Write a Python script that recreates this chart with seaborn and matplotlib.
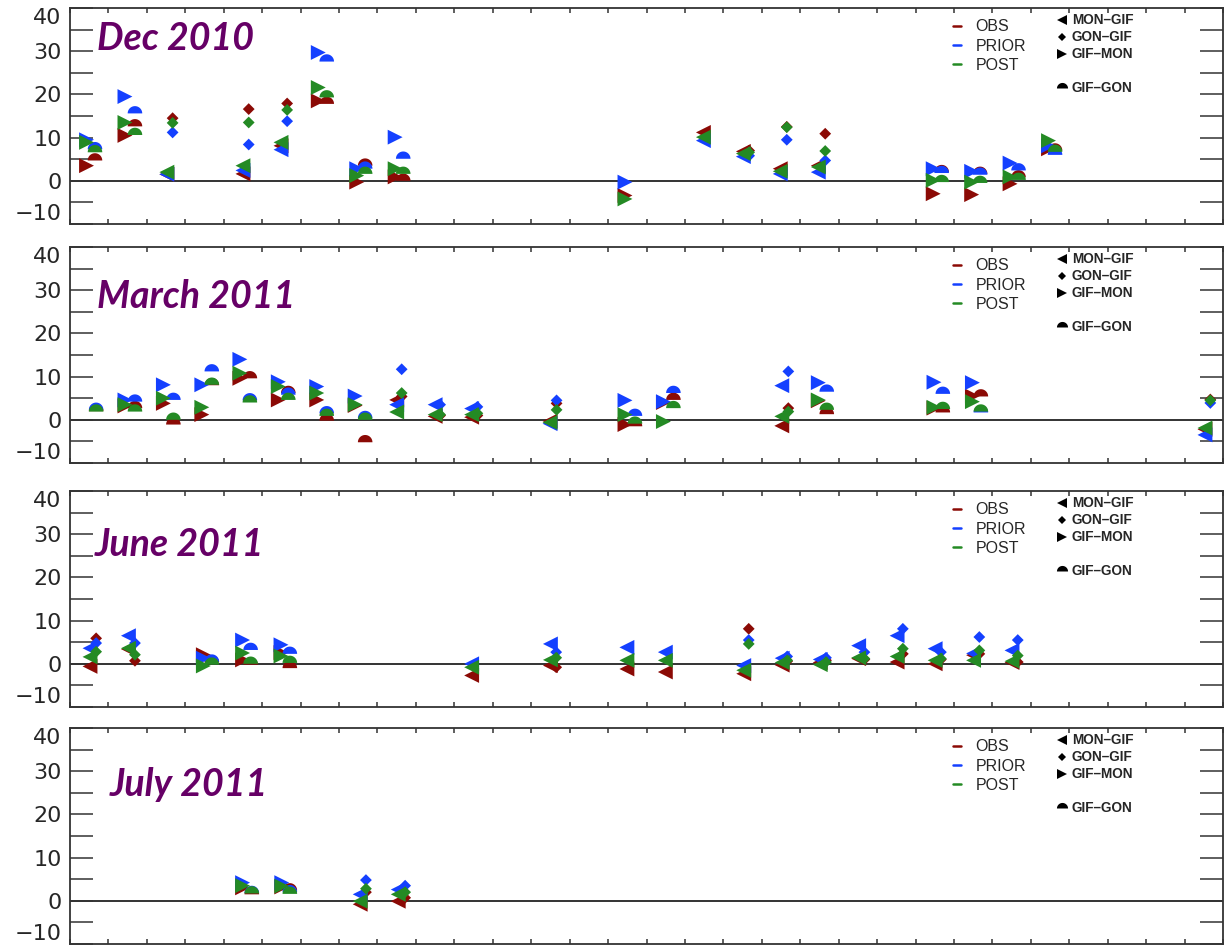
import numpy as np
import pandas as pd
import matplotlib
matplotlib.use("Agg")
import matplotlib.pyplot as plt
from matplotlib.path import Path
from matplotlib.lines import Line2D
from matplotlib.ticker import MultipleLocator
import seaborn as sns

# ---- data: day of month, enhancement (ppm) per series, per station pair ----
# Dec 2010
dec_mg_day = [3.52, 5.5, 6.49, 17.48, 18.52, 19.48, 20.47]
dec_mg_obs = [1.5, 1.6, 8.1, 11.2, 6.8, 2.8, 3.5]
dec_mg_prior = [1.5, 2.4, 7.2, 9.3, 5.6, 1.6, 2.0]
dec_mg_post = [2.0, 3.5, 8.9, 10.1, 6.3, 2.2, 3.2]

dec_gg_day = [3.67, 5.65, 6.65, 18.67, 19.65, 20.65]
dec_gg_obs = [14.5, 16.6, 17.9, 7.0, 12.5, 10.9]
dec_gg_prior = [11.2, 8.4, 13.8, 5.8, 9.5, 4.7]
dec_gg_post = [13.4, 13.5, 16.4, 6.6, 12.4, 6.9]

dec_gm_day = [1.43, 2.43, 7.46, 8.46, 9.46, 15.44, 23.46, 24.46, 25.46, 26.46]
dec_gm_obs = [3.5, 10.5, 18.5, -0.3, 0.9, -3.4, -3.0, -3.2, -0.7, 7.4]
dec_gm_prior = [9.5, 19.5, 29.7, 2.8, 10.1, -0.3, 2.8, 2.2, 4.1, 8.1]
dec_gm_post = [8.9, 13.5, 21.6, 1.2, 2.8, -4.2, 0.1, -0.3, 0.9, 9.3]

dec_go_day = [1.65, 2.69, 7.68, 8.68, 9.67, 23.68, 24.68, 25.68, 26.63]
dec_go_obs = [4.7, 12.6, 17.8, 3.5, 0.0, 2.0, 1.6, 0.8, 7.0]
dec_go_prior = [7.3, 15.6, 27.6, 2.8, 5.1, 1.8, 1.4, 2.4, 6.0]
dec_go_post = [6.6, 10.6, 19.3, 1.6, 1.6, -0.3, -0.5, 0.2, 6.7]

# March 2011
mar_mg_day = [9.5, 10.5, 11.45, 13.49, 19.52, 30.53]
mar_mg_obs = [4.6, 0.8, 0.6, -0.3, -1.4, -2.2]
mar_mg_prior = [3.5, 3.5, 2.6, -0.9, 7.9, -3.5]
mar_mg_post = [1.8, 1.2, 1.2, -0.6, 0.8, -1.9]

mar_gg_day = [9.63, 10.63, 11.6, 13.66, 19.69, 30.67]
mar_gg_obs = [5.4, 1.0, 1.0, 3.8, 2.7, 4.7]
mar_gg_prior = [11.7, 3.5, 3.0, 4.5, 11.2, 3.9]
mar_gg_post = [6.2, 1.2, 1.5, 2.3, 1.9, 4.5]

mar_gm_day = [2.43, 3.43, 4.43, 5.42, 6.42, 7.42, 8.42, 15.44, 16.44, 20.47, 23.48, 24.48]
mar_gm_obs = [3.2, 3.8, 1.2, 9.6, 4.6, 4.6, 3.3, -1.1, 4.0, 4.4, 2.7, 5.5]
mar_gm_prior = [4.6, 8.1, 8.1, 14.0, 8.8, 7.7, 5.5, 4.5, 4.2, 8.6, 8.7, 8.6]
mar_gm_post = [3.5, 5.0, 2.9, 10.8, 7.7, 6.2, 3.5, 1.2, -0.4, 4.6, 2.9, 4.2]

mar_go_day = [1.68, 2.69, 3.69, 4.69, 5.68, 6.68, 7.68, 8.68, 15.7, 16.7, 20.69, 23.71, 24.7]
mar_go_obs = [2.0, 2.7, -1.1, 8.0, 9.6, 6.2, -0.2, -5.2, -1.5, 4.6, 1.3, 1.7, 5.4]
mar_go_prior = [2.3, 4.2, 4.6, 11.2, 4.5, 5.8, 1.5, 0.4, 0.9, 6.2, 6.5, 6.0, 1.7]
mar_go_post = [1.9, 1.9, 0.0, 8.1, 4.0, 4.6, 0.9, 0.0, -0.9, 2.7, 2.3, 2.5, 1.9]

# June 2011
jun_mg_day = [1.52, 2.52, 11.45, 13.5, 15.49, 16.49, 18.53, 19.53, 20.52, 21.52, 22.52, 23.51, 24.51, 25.51]
jun_mg_obs = [-0.6, 3.4, -2.7, -0.4, -1.2, -1.9, -2.3, -0.3, 0.3, 1.2, 0.4, 0.0, 2.0, 0.3]
jun_mg_prior = [3.6, 6.5, 0.0, 4.6, 3.8, 2.7, -0.4, 1.3, 1.0, 4.2, 6.5, 3.5, 2.4, 3.1]
jun_mg_post = [1.6, 3.6, -0.8, 0.9, 0.8, 0.8, -1.5, 0.3, -0.2, 1.4, 1.7, 0.8, 0.8, 0.6]

jun_gg_day = [1.68, 2.69, 13.65, 18.66, 19.66, 20.67, 21.67, 22.67, 23.66, 24.66, 25.66]
jun_gg_obs = [5.9, 0.7, -0.8, 8.1, 0.6, 0.8, 1.0, 2.3, 1.0, 2.3, 0.4]
jun_gg_prior = [4.8, 4.8, 2.7, 5.5, 1.7, 1.4, 2.7, 8.1, 2.7, 6.2, 5.5]
jun_gg_post = [2.8, 2.1, 1.4, 4.6, 0.8, 0.4, 1.2, 3.5, 1.2, 3.1, 1.9]

jun_gm_day = [4.47, 5.49, 6.49]
jun_gm_obs = [2.1, 0.9, 2.6]
jun_gm_prior = [1.3, 5.5, 4.4]
jun_gm_post = [-0.5, 2.5, 1.8]

jun_go_day = [4.69, 5.7, 6.72]
jun_go_obs = [0.3, -0.2, -1.0]
jun_go_prior = [0.5, 3.2, 2.3]
jun_go_post = [-0.2, 0.0, 0.2]

# July 2011
jul_mg_day = [8.55, 9.54]
jul_mg_obs = [-0.8, -0.1]
jul_mg_prior = [1.5, 2.6]
jul_mg_post = [-0.1, 1.5]

jul_gg_day = [8.7, 9.72]
jul_gg_obs = [2.0, 0.7]
jul_gg_prior = [4.8, 3.5]
jul_gg_post = [2.8, 2.0]

jul_gm_day = [5.49, 6.51]
jul_gm_obs = [3.0, 3.2]
jul_gm_prior = [4.2, 4.2]
jul_gm_post = [3.5, 3.4]

jul_go_day = [5.73, 6.72]
jul_go_obs = [1.5, 2.4]
jul_go_prior = [1.8, 2.0]
jul_go_post = [1.7, 1.6]

months = ["Dec 2010", "March 2011", "June 2011", "July 2011"]
series = ["OBS", "PRIOR", "POST"]
pairs = ["MON-GIF", "GON-GIF", "GIF-MON", "GIF-GON"]

panel_data = [
    {"MON-GIF": (dec_mg_day, dec_mg_obs, dec_mg_prior, dec_mg_post),
     "GON-GIF": (dec_gg_day, dec_gg_obs, dec_gg_prior, dec_gg_post),
     "GIF-MON": (dec_gm_day, dec_gm_obs, dec_gm_prior, dec_gm_post),
     "GIF-GON": (dec_go_day, dec_go_obs, dec_go_prior, dec_go_post)},
    {"MON-GIF": (mar_mg_day, mar_mg_obs, mar_mg_prior, mar_mg_post),
     "GON-GIF": (mar_gg_day, mar_gg_obs, mar_gg_prior, mar_gg_post),
     "GIF-MON": (mar_gm_day, mar_gm_obs, mar_gm_prior, mar_gm_post),
     "GIF-GON": (mar_go_day, mar_go_obs, mar_go_prior, mar_go_post)},
    {"MON-GIF": (jun_mg_day, jun_mg_obs, jun_mg_prior, jun_mg_post),
     "GON-GIF": (jun_gg_day, jun_gg_obs, jun_gg_prior, jun_gg_post),
     "GIF-MON": (jun_gm_day, jun_gm_obs, jun_gm_prior, jun_gm_post),
     "GIF-GON": (jun_go_day, jun_go_obs, jun_go_prior, jun_go_post)},
    {"MON-GIF": (jul_mg_day, jul_mg_obs, jul_mg_prior, jul_mg_post),
     "GON-GIF": (jul_gg_day, jul_gg_obs, jul_gg_prior, jul_gg_post),
     "GIF-MON": (jul_gm_day, jul_gm_obs, jul_gm_prior, jul_gm_post),
     "GIF-GON": (jul_go_day, jul_go_obs, jul_go_prior, jul_go_post)},
]

colors = {"OBS": "#8b0a05", "PRIOR": "#1440ff", "POST": "#248a24"}

# half-disc marker, flat side on the value
theta = np.linspace(0, np.pi, 40)
half = np.column_stack([np.cos(theta), np.sin(theta)])
half = np.vstack([half, half[:1]])
SEMI = Path(half, closed=True)

markers = {"MON-GIF": "<", "GON-GIF": "D", "GIF-MON": ">", "GIF-GON": SEMI}
sizes = {"MON-GIF": 115, "GON-GIF": 36, "GIF-MON": 115, "GIF-GON": 110}


def long_frame(pdict):
    rows = []
    for i, s in enumerate(series):
        for p in pairs:
            days = pdict[p][0]
            vals = pdict[p][i + 1]
            for d, v in zip(days, vals):
                rows.append((d, v, s, p))
    return pd.DataFrame(rows, columns=["day", "value", "series", "pair"])


sns.set_style("ticks")
plt.rcParams["font.family"] = ["Liberation Sans", "DejaVu Sans"]

fig = plt.figure(figsize=(12.32, 9.46), dpi=100)
W, H = 1232, 946
tops = [8, 247, 491, 728]
title_pos = [(97, 39), (97, 297), (95, 545), (110, 785)]
axes = []

for k, month in enumerate(months):
    top = tops[k]
    ax = fig.add_axes([70 / W, 1 - (top + 216) / H, 1153 / W, 216 / H])
    axes.append(ax)
    df = long_frame(panel_data[k])
    sns.scatterplot(data=df, x="day", y="value", hue="series", style="pair",
                    size="pair", hue_order=series, palette=colors,
                    markers=markers, sizes=sizes, linewidth=0,
                    legend=False, ax=ax)
    ax.axhline(0, color="#333333", lw=1.4, zorder=0)
    ax.set_xlim(1, 31)
    ax.set_ylim(-10, 40)
    ax.set_xlabel("")
    ax.set_ylabel("")

    ax.xaxis.set_major_locator(MultipleLocator(1))
    ax.yaxis.set_major_locator(MultipleLocator(10))
    ax.yaxis.set_minor_locator(MultipleLocator(5))
    ax.tick_params(axis="x", which="both", direction="in", top=True, bottom=True,
                   length=3.5, width=1.1, labelbottom=False, color="#333333")
    ax.tick_params(axis="y", which="both", direction="in", left=True, right=True,
                   length=16.5, width=1.1, pad=6, color="#333333")
    for lab in ax.get_yticklabels():
        lab.set_family(["DejaVu Sans"])
        lab.set_fontsize(16)
    for sp in ax.spines.values():
        sp.set_linewidth(1.3)
        sp.set_color("#333333")

    tx, ty = title_pos[k]
    ax.text((tx - 70) / 1153, 1 - (ty - top) / 216, month,
            transform=ax.transAxes, ha="left", va="center",
            fontsize=27, fontweight="bold", fontstyle="italic",
            color="#660066", family=["Lato", "DejaVu Sans"])

    # series legend
    s_handles = [Line2D([], [], color=colors[s], lw=1.8) for s in series]
    leg1 = ax.legend(s_handles, series, loc="upper left",
                     bbox_to_anchor=(0.766, 0.947), frameon=False,
                     fontsize=11.5, handlelength=0.5, handletextpad=0.9,
                     labelspacing=0.26, borderpad=0, borderaxespad=0)
    ax.add_artist(leg1)

    # station-pair legend (blank slot before GIF-GON)
    p_handles = [
        Line2D([], [], ls="none", marker="<", color="black", markersize=7, mew=0),
        Line2D([], [], ls="none", marker="D", color="black", markersize=4.5, mew=0),
        Line2D([], [], ls="none", marker=">", color="black", markersize=7, mew=0),
        Line2D([], [], ls="none"),
        Line2D([], [], ls="none", marker=SEMI, color="black", markersize=8, mew=0),
    ]
    p_labels = ["MON\u2013GIF", "GON\u2013GIF", "GIF\u2013MON", " ", "GIF\u2013GON"]
    ax.legend(p_handles, p_labels, loc="upper left",
              bbox_to_anchor=(0.856, 0.975), frameon=False,
              prop={"size": 9.8, "weight": "bold"}, handlelength=0.8,
              handletextpad=0.3, labelspacing=0.22, borderpad=0, borderaxespad=0)

# keep end labels inside the frame like the original
fig.canvas.draw()
for ax in axes:
    for tick in ax.yaxis.get_major_ticks():
        loc = tick.get_loc()
        tick.label1.set_family(["DejaVu Sans"])
        tick.label1.set_fontsize(16)
        if abs(loc - 40) < 1e-6:
            tick.label1.set_verticalalignment("top")
        elif abs(loc + 10) < 1e-6:
            tick.label1.set_verticalalignment("bottom")

fig.savefig("out.png", dpi=100)
